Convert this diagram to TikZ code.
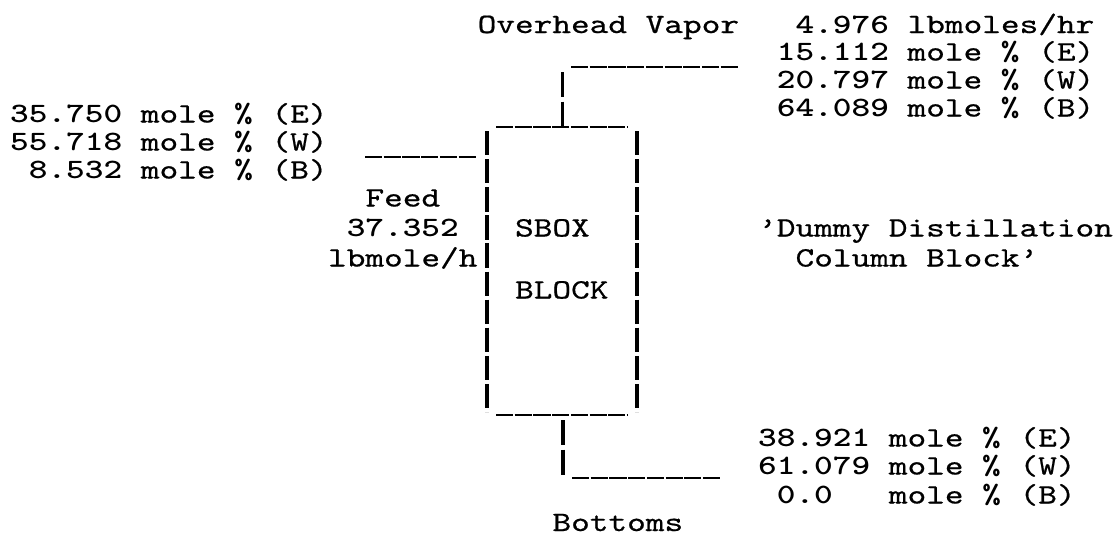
\documentclass[tikz,border=0pt]{standalone}
\usepackage{fontspec}
\newfontfamily\twr{lmmono10-regular.otf}[FakeStretch=1.27, FakeBold=0.6]
\newfontfamily\twb{lmmonolt10-bold.otf}[FakeStretch=1.27]
\newcommand{\tw}[1]{{\fontsize{28}{28}\twr #1}}
\newcommand{\nb}[1]{{\twb #1}}
\begin{document}
\begin{tikzpicture}[x=1pt,y=-1pt,
  txt/.style={anchor=base west, inner sep=0pt},
  hline/.style={line width=2.8pt, dash pattern=on 17.2pt off 1.5pt},
  vline/.style={line width=3.4pt, dash pattern=on 24.3pt off 3.8pt},
  sline/.style={line width=3.4pt, dash pattern=on 25pt off 4.5pt}]
\useasboundingbox (0,0) rectangle (1114,539);
% texts (x = column start, y = baseline)
\node[txt] (ov)  at (477.5, 33) {\tw{Overhead Vapor}};
\node[txt] (ovr) at (795.4, 33) {\tw{\nb{4.976} lbmoles/hr}};
\node[txt] (ov1) at (776.7, 60.5) {\tw{\nb{15.112} mole \nb{\%} (E)}};
\node[txt] (ov2) at (776.7, 88.5) {\tw{\nb{20.797} mole \nb{\%} (W)}};
\node[txt] (ov3) at (776.7,116.5) {\tw{\nb{64.089} mole \nb{\%} (B)}};
\node[txt] (fd1) at (10,122.5)   {\tw{\nb{35.750} mole \nb{\%} (E)}};
\node[txt] (fd2) at (10,150.5)   {\tw{\nb{55.718} mole \nb{\%} (W)}};
\node[txt] (fd3) at (28.7,178.5) {\tw{\nb{8.532} mole \nb{\%} (B)}};
\node[txt] (fdn) at (365.3,206.5) {\tw{Feed}};
\node[txt] (fdq) at (346.6,236.5) {\tw{\nb{37.352}}};
\node[txt] (fdu) at (327.9,266.5) {\tw{lbmole/h}};
\node[txt] (sb1) at (514.9,236.5) {\tw{SBOX}};
\node[txt] (sb2) at (514.9,298.5) {\tw{BLOCK}};
\node[txt] (cm1) at (758,236.5)   {\tw{’Dummy Distillation}};
\node[txt] (cm2) at (795.4,266.5) {\tw{Column Block’}};
\node[txt] (bt1) at (758,446.5)   {\tw{\nb{38.921} mole \nb{\%} (E)}};
\node[txt] (bt2) at (758,474.5)   {\tw{\nb{61.079} mole \nb{\%} (W)}};
\node[txt] (bt3) at (776.7,503.5) {\tw{\nb{0.0}~~~mole \nb{\%} (B)}};
\node[txt] (btn) at (552.3,531) {\tw{Bottoms}};
% coordinates of the typed lines
\coordinate (topE) at (739,67);
\coordinate (topW) at (571,67);
\coordinate (topV1) at (562.5,72);
\coordinate (topV2) at (562.5,127);
\coordinate (boxTL) at (496,127);
\coordinate (boxTR) at (627,127);
\coordinate (boxL1) at (487,131);
\coordinate (boxL2) at (487,412);
\coordinate (boxR1) at (637,131);
\coordinate (boxR2) at (637,412);
\coordinate (boxBL) at (496,415);
\coordinate (boxBR) at (627,415);
\coordinate (feedA) at (365,157);
\coordinate (feedB) at (477,157);
\coordinate (botV1) at (563,420);
\coordinate (botV2) at (563,477);
\coordinate (botW) at (572,478);
\coordinate (botE) at (720,478);
\draw[hline] (topW) -- (topE);
\draw[sline] (topV1) -- (topV2);
\draw[hline] (boxTL) -- (boxTR);
\draw[vline] (boxL1) -- (boxL2);
\draw[vline] (boxR1) -- (boxR2);
\draw[hline] (boxBL) -- (boxBR);
\draw[hline] (feedA) -- (feedB);
\draw[sline] (botV1) -- (botV2);
\draw[hline] (botW) -- (botE);
\end{tikzpicture}
\end{document}
